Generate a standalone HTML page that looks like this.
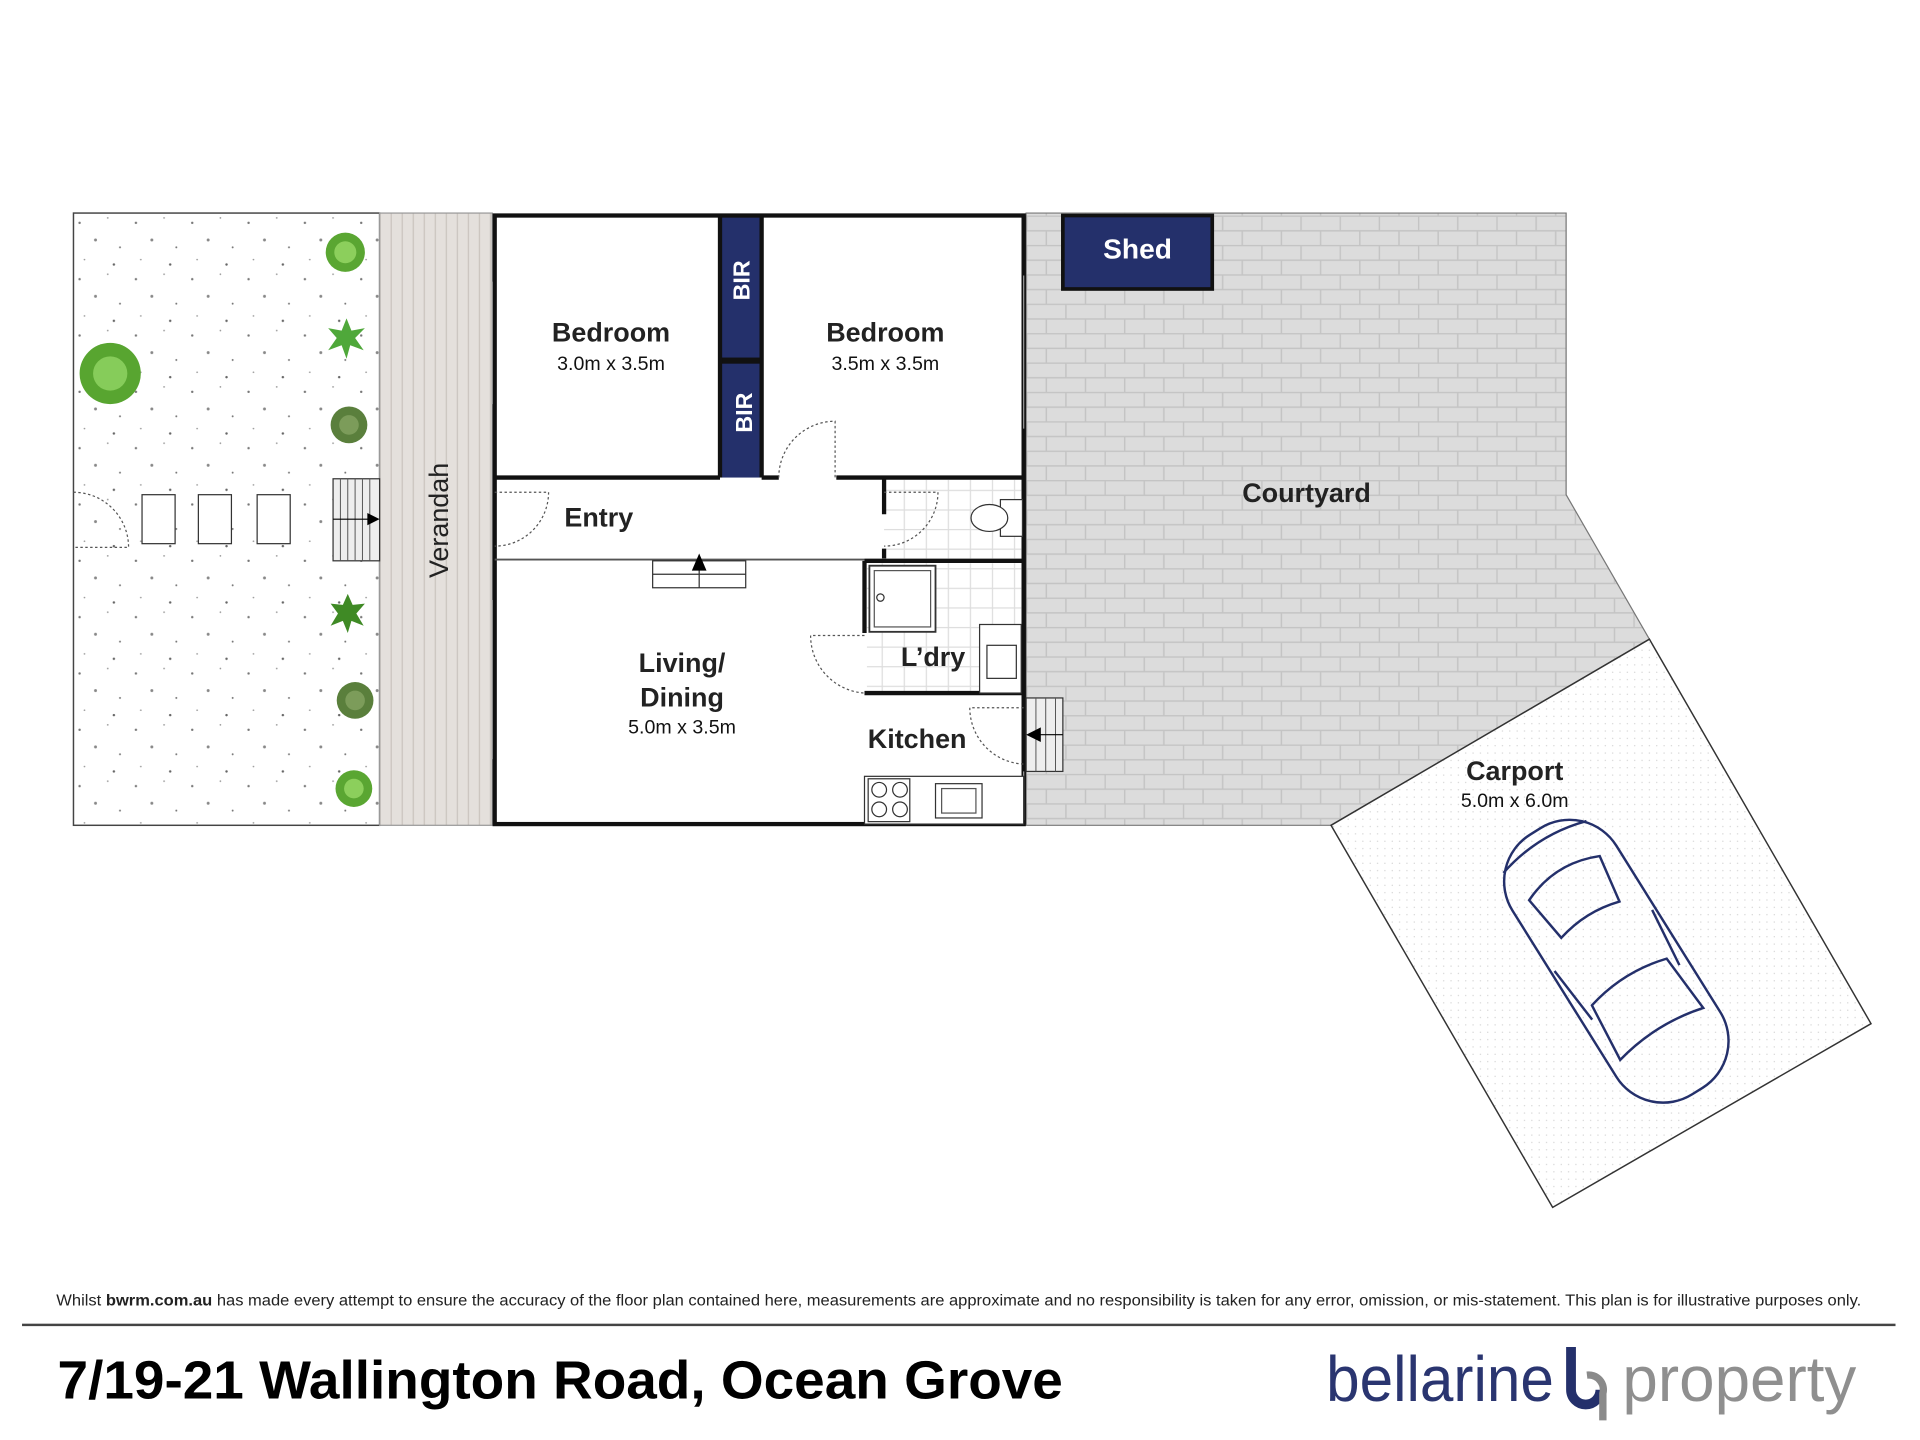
<!DOCTYPE html>
<html><head><meta charset="utf-8"><style>html,body{margin:0;padding:0;background:#fff}svg{display:block}</style></head>
<body>
<svg width="1920" height="1440" viewBox="0 0 1568 1176" xmlns="http://www.w3.org/2000/svg" font-family="'Liberation Sans','DejaVu Sans',sans-serif">
<defs>
<pattern id="brick" width="64" height="24" patternUnits="userSpaceOnUse" x="838" y="176">
<rect width="64" height="24" fill="#dcdcdc"/>
<path d="M0 0.5H64M0 12.5H64M0.5 0V12M32.5 0V12M16.5 12V24M48.5 12V24" stroke="#c4c4c4" stroke-width="1.2"/>
</pattern>
<pattern id="tile" width="18" height="16" patternUnits="userSpaceOnUse">
<rect width="18" height="16" fill="#fff"/>
<path d="M0 0.5H18M0.5 0V16" stroke="#ddd" stroke-width="1"/>
</pattern>
<pattern id="dots" width="46" height="46" patternUnits="userSpaceOnUse" x="60" y="174">
<rect width="46" height="46" fill="#fff"/>
<circle cx="5" cy="8" r="1" fill="#777"/><circle cx="28" cy="4" r="0.7" fill="#999"/><circle cx="18" cy="22" r="1.2" fill="#888"/><circle cx="38" cy="28" r="0.8" fill="#777"/><circle cx="9" cy="38" r="0.7" fill="#999"/><circle cx="33" cy="42" r="1" fill="#666"/>
</pattern>
<pattern id="fdots" width="6" height="6" patternUnits="userSpaceOnUse">
<rect width="6" height="6" fill="#fff"/><circle cx="3" cy="3" r="0.5" fill="#ccc"/>
</pattern>
<pattern id="ver" width="9" height="10" patternUnits="userSpaceOnUse" x="310">
<rect width="9" height="10" fill="#e4e0dc"/><path d="M0.5 0V10" stroke="#c9c3bd" stroke-width="1"/>
</pattern>
</defs>

<rect x="60" y="174" width="250" height="500" fill="url(#dots)" stroke="#444" stroke-width="1.2"/>
<rect x="310" y="174" width="92" height="500" fill="url(#ver)" stroke="#999" stroke-width="1"/>
<polygon points="838,174 1279,174 1279,404 1347,522 1087,674 838,674" fill="url(#brick)" stroke="#777" stroke-width="1"/>
<polygon points="1087,674 1347,522 1528,836 1268,986" fill="url(#fdots)" stroke="#333" stroke-width="1.2"/>

<g>
<circle cx="282" cy="206" r="16" fill="#5aa632"/><circle cx="282" cy="206" r="9" fill="#8ccf5c"/>
<circle cx="90" cy="305" r="25" fill="#58a530"/><circle cx="90" cy="305" r="14" fill="#86cc5a"/>
<polygon points="283,260 287,270 298,268 290,276 297,286 286,282 283,293 279,282 268,286 275,276 268,268 279,270" fill="#4fa83a"/>
<circle cx="285" cy="347" r="15" fill="#5a7f3c"/><circle cx="285" cy="347" r="8" fill="#7c9c5a"/>
<polygon points="284,485 288,494 298,493 291,501 297,511 287,507 284,517 280,507 270,511 276,501 270,493 280,494" fill="#3f8a25"/>
<circle cx="290" cy="572" r="15" fill="#5a7f3c"/><circle cx="290" cy="572" r="8" fill="#7c9c5a"/>
<circle cx="289" cy="644" r="15" fill="#5aa632"/><circle cx="289" cy="644" r="8" fill="#8ccf5c"/>
</g>

<path d="M60 402 A45 45 0 0 1 105 447 L60 447" fill="none" stroke="#555" stroke-dasharray="2,2" stroke-width="1"/>
<rect x="116" y="404" width="27" height="40" fill="#fff" stroke="#333"/>
<rect x="162" y="404" width="27" height="40" fill="#fff" stroke="#333"/>
<rect x="210" y="404" width="27" height="40" fill="#fff" stroke="#333"/>
<rect x="272" y="391" width="38" height="67" fill="#eee" stroke="#333"/>
<path d="M278 391V458M284 391V458M290 391V458M296 391V458M302 391V458" stroke="#555" stroke-width="0.8"/>
<path d="M272 424H305" stroke="#000"/><polygon points="310,424 300,419 300,429" fill="#000"/>

<rect x="404" y="176" width="432" height="497" fill="#fff"/>
<rect x="722" y="392" width="112" height="64" fill="url(#tile)"/>
<rect x="708" y="460" width="126" height="106" fill="url(#tile)"/>

<rect x="588" y="176" width="34" height="214" fill="#24306b"/>
<rect x="588" y="292" width="34" height="5" fill="#111"/>
<text transform="translate(612,229) rotate(-90)" text-anchor="middle" fill="#fff" font-size="19" font-weight="bold">BIR</text>
<text transform="translate(614,337) rotate(-90)" text-anchor="middle" fill="#fff" font-size="19" font-weight="bold">BIR</text>

<g stroke="#111" fill="none" stroke-width="3.5">
<rect x="404" y="176" width="432" height="497"/>
<path d="M404 390H588M622 390H636M683 390H836"/>
<path d="M588 176V390M622 176V390"/>
<path d="M722 390V420M722 448V456"/>
<path d="M706 458H836M706 458V517M706 566H836"/>
<path d="M836 176V673"/>
</g>
<path d="M404 457H706" stroke="#555" stroke-width="1.5"/>
<g fill="none" stroke="#555" stroke-width="1" stroke-dasharray="2,2">
<path d="M636 390 A46 46 0 0 1 682 344 V390"/>
<path d="M404 402 H448 A44 44 0 0 1 404 446"/>
<path d="M722 402 H766 A44 44 0 0 1 722 446"/>
<path d="M706 519 H662 A47 47 0 0 0 706 566"/>
<path d="M836 578 H792 A46 46 0 0 0 836 624"/>
</g>
<g stroke="#999" stroke-width="1"><path d="M402 230V330M402 490V620M836 225V350M836 630V670"/></g>

<rect x="533" y="458" width="76" height="22" fill="#fff" stroke="#333"/><path d="M533 469H609M571 458V480" stroke="#333"/>
<polygon points="571,452 565,466 577,466" fill="#000"/>

<rect x="817" y="408" width="18" height="30" fill="#fff" stroke="#333"/><ellipse cx="808" cy="423" rx="15" ry="11" fill="#fff" stroke="#333"/>
<rect x="710" y="462" width="54" height="54" fill="#fff" stroke="#333" stroke-width="1.5"/><rect x="714" y="466" width="46" height="46" fill="none" stroke="#555"/><circle cx="719" cy="488" r="3" fill="#fff" stroke="#333"/>
<rect x="800" y="510" width="34" height="56" fill="#fff" stroke="#333"/><rect x="806" y="527" width="24" height="27" fill="#fff" stroke="#333"/>
<rect x="706" y="634" width="130" height="39" fill="#fff" stroke="#333"/>
<rect x="709" y="636" width="34" height="35" fill="#fff" stroke="#333"/>
<circle cx="718" cy="645" r="6" fill="none" stroke="#333"/><circle cx="735" cy="645" r="6" fill="none" stroke="#333"/><circle cx="718" cy="661" r="6" fill="none" stroke="#333"/><circle cx="735" cy="661" r="6" fill="none" stroke="#333"/>
<rect x="764" y="640" width="38" height="28" fill="#fff" stroke="#333"/><rect x="769" y="644" width="28" height="20" fill="none" stroke="#555"/>
<rect x="838" y="570" width="30" height="60" fill="#eee" stroke="#333"/>
<path d="M846 570V630M854 570V630M862 570V630" stroke="#555" stroke-width="0.8"/>
<path d="M845 600H868" stroke="#000"/><polygon points="838,600 850,594 850,606" fill="#000"/>

<rect x="868" y="176" width="122" height="60" fill="#24306b" stroke="#111" stroke-width="3"/>
<text x="929" y="211" text-anchor="middle" fill="#fff" font-size="23" font-weight="bold">Shed</text>

<g transform="translate(1320,785) rotate(-32)" fill="none" stroke="#24306b" stroke-width="2">
<rect x="-50" y="-125" width="100" height="250" rx="45"/>
<path d="M-34 -80 Q0 -95 34 -80 L28 -40 Q0 -48 -28 -40Z"/>
<path d="M-36 20 Q0 10 36 20 L40 70 Q0 60 -40 70Z"/>
<path d="M-40 -110 Q0 -122 40 -110"/>
<path d="M-47 -20 L-42 30M47 -20 L42 30"/>
</g>

<g fill="#111" text-anchor="middle">
<text x="499" y="279" font-size="22" font-weight="bold" fill="#222">Bedroom</text>
<text x="499" y="302" font-size="16">3.0m x 3.5m</text>
<text x="723" y="279" font-size="22" font-weight="bold" fill="#222">Bedroom</text>
<text x="723" y="302" font-size="16">3.5m x 3.5m</text>
<text x="489" y="430" font-size="22" font-weight="bold" fill="#222">Entry</text>
<text x="557" y="549" font-size="22" font-weight="bold" fill="#222">Living/</text>
<text x="557" y="577" font-size="22" font-weight="bold" fill="#222">Dining</text>
<text x="557" y="599" font-size="16">5.0m x 3.5m</text>
<text x="762" y="544" font-size="22" font-weight="bold" fill="#222">L’dry</text>
<text x="749" y="611" font-size="22" font-weight="bold" fill="#222">Kitchen</text>
<text x="1067" y="410" font-size="22" font-weight="bold" fill="#222">Courtyard</text>
<text x="1237" y="637" font-size="22" font-weight="bold" fill="#222">Carport</text>
<text x="1237" y="659" font-size="16">5.0m x 6.0m</text>
<text transform="translate(366,425) rotate(-90)" font-size="22" fill="#222">Verandah</text>
</g>

<text x="46" y="1066" font-size="12.5" fill="#222" textLength="1474" lengthAdjust="spacingAndGlyphs">Whilst <tspan font-weight="bold">bwrm.com.au</tspan> has made every attempt to ensure the accuracy of the floor plan contained here, measurements are approximate and no responsibility is taken for any error, omission, or mis-statement. This plan is for illustrative purposes only.</text>
<rect x="18" y="1081" width="1530" height="2" fill="#444"/>
<text x="47" y="1142" font-size="44" font-weight="bold" fill="#000" textLength="821" lengthAdjust="spacingAndGlyphs">7/19-21 Wallington Road, Ocean Grove</text>
<text x="1083" y="1144" font-size="52" fill="#2a3570" textLength="186" lengthAdjust="spacingAndGlyphs">bellarine</text>
<path d="M1283 1100 V1135 A12 12 0 0 0 1307 1135" fill="none" stroke="#24306b" stroke-width="8"/>
<path d="M1296 1123 A12 12 0 0 1 1309 1138 V1160" fill="none" stroke="#8a8a8a" stroke-width="6"/>
<text x="1325" y="1144" font-size="52" fill="#8f8f8f" textLength="191" lengthAdjust="spacingAndGlyphs">property</text>
</svg>
</body></html>
